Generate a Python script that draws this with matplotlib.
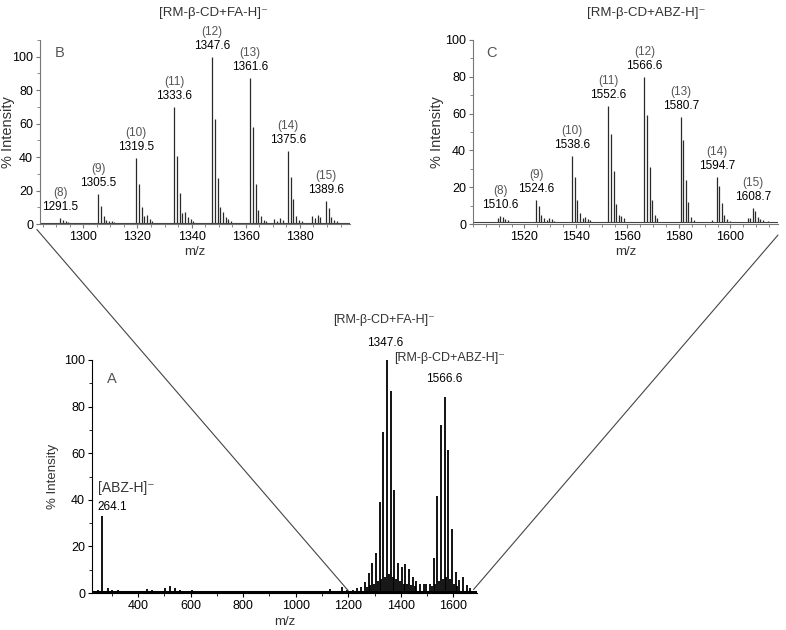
import matplotlib
matplotlib.use('Agg')
import matplotlib.pyplot as plt
from matplotlib.patches import ConnectionPatch
from matplotlib.ticker import MultipleLocator

plt.rcParams['font.family'] = ['Liberation Sans', 'DejaVu Sans']
plt.rcParams['font.size'] = 9

# --- panel A: full spectrum (cluster tops only) ---
a_mz = [247, 264.1, 287, 300, 325, 340, 433, 452, 471, 503, 522, 541, 560, 605,
        650, 700, 1132, 1176, 1195, 1219, 1235, 1249.5,
        1263.5, 1270.5, 1277.5, 1284.5, 1291.5, 1298.5, 1305.5, 1312.5, 1319.5,
        1326.5, 1333.6, 1340.6, 1347.6, 1354.6, 1361.6, 1368.6, 1375.6, 1382.6,
        1389.6, 1396.6, 1403.6, 1410.6, 1417.6, 1424.6, 1431.6, 1438.6, 1445.6,
        1452.6, 1459.6, 1473.6, 1487.6, 1496.6, 1510.6, 1517.6, 1524.6, 1531.6,
        1538.6, 1545.6, 1552.6, 1559.6, 1566.6, 1573.6, 1580.7, 1587.7, 1594.7,
        1601.7, 1608.7, 1615.7, 1622.7, 1636.7, 1650.7, 1664.7]
a_int = [1.2, 33, 2, 1.5, 1.3, 1, 1.6, 1.2, 1, 2, 3, 2.3, 1.2, 1.4,
         1, 1, 1.7, 2.7, 1.5, 1.5, 2, 2.5,
         4.6, 2.5, 8.4, 3.5, 12.7, 4, 17, 5, 39,
         6, 69, 7, 100, 8, 86.5, 7, 44, 6,
         13, 5, 11, 4, 12.5, 4, 10.5, 3.5, 7,
         3, 5, 4, 4, 4, 4, 3, 15, 4,
         41.8, 5, 72, 6, 84, 7, 61.5, 6, 27.5,
         4, 9, 3, 5.5, 7, 3.5, 2]
a_tags = {264.1: '264.1', 1347.6: '1347.6', 1566.6: '1566.6'}

# --- panel B: [RM-b-CD+FA-H]- cluster ---
b_mz = [1291.5, 1292.5, 1293.5, 1294.5,
        1305.5, 1306.5, 1307.5, 1308.5, 1309.5, 1310.5, 1311.5,
        1319.5, 1320.5, 1321.5, 1322.5, 1323.5, 1324.5, 1325.5,
        1333.6, 1334.6, 1335.6, 1336.6, 1337.6, 1338.6, 1339.6, 1340.6,
        1347.6, 1348.6, 1349.6, 1350.6, 1351.6, 1352.6, 1353.6, 1354.6,
        1361.6, 1362.6, 1363.6, 1364.6, 1365.6, 1366.6, 1367.6,
        1370.6, 1371.6, 1372.6, 1373.6,
        1375.6, 1376.6, 1377.6, 1378.6, 1379.6, 1380.6,
        1384.6, 1385.6, 1386.6, 1387.6,
        1389.6, 1390.6, 1391.6, 1392.6, 1393.6]
b_int = [3.5, 2.5, 1.5, 1.2,
         18, 10.5, 5, 2.5, 1.8, 1.5, 1.2,
         39.5, 24, 10, 4.5, 5.5, 3, 2,
         70, 40.5, 18.5, 6.5, 7, 4, 3, 2,
         100, 62.5, 27.5, 10, 7, 4, 3, 2,
         87.5, 58, 24, 8.5, 4.5, 2.5, 2,
         3, 2, 3.5, 2.5,
         43.5, 28, 15, 5, 2.5, 1.5,
         4.5, 3.5, 5.5, 4,
         14, 9.5, 4, 2.5, 1.5]
b_label_mz = [1291.5, 1305.5, 1319.5, 1333.6, 1347.6, 1361.6, 1375.6, 1389.6]
b_label_n = [8, 9, 10, 11, 12, 13, 14, 15]

# --- panel C: [RM-b-CD+ABZ-H]- cluster ---
c_mz = [1509.6, 1510.6, 1511.6, 1512.6, 1513.6,
        1524.6, 1525.6, 1526.6, 1527.6, 1528.6, 1529.6, 1530.6, 1531.6,
        1538.6, 1539.6, 1540.6, 1541.6, 1542.6, 1543.6, 1544.6, 1545.6,
        1552.6, 1553.6, 1554.6, 1555.6, 1556.6, 1557.6, 1558.6,
        1566.6, 1567.6, 1568.6, 1569.6, 1570.6, 1571.6,
        1580.7, 1581.7, 1582.7, 1583.7, 1584.7, 1585.7,
        1592.7,
        1594.7, 1595.7, 1596.7, 1597.7, 1598.7, 1599.7,
        1606.7, 1607.7, 1608.7, 1609.7, 1610.7, 1611.7, 1612.7, 1614.7]
c_int = [3, 4.5, 4, 2.5, 2,
         13, 10, 5, 3, 2, 3.5, 2.5, 1.8,
         37, 25.5, 13, 6, 3.5, 4, 2.5, 2,
         64, 49, 29, 11, 5, 4.5, 3,
         80, 59.5, 31, 13, 5, 3,
         58, 45.5, 24, 12, 4, 2,
         2,
         25.5, 20.5, 11.5, 5, 2.5, 1.8,
         3, 3.5, 8.5, 7, 4, 2.5, 2, 1.8]
c_label_mz = [1510.6, 1524.6, 1538.6, 1552.6, 1566.6, 1580.7, 1594.7, 1608.7]
c_label_n = [8, 9, 10, 11, 12, 13, 14, 15]

GREY = '#555555'
DARK = '#333333'


def style_axes(ax, color, ylab_x, xlab_y, ylab_size):
    ax.spines['top'].set_visible(False)
    ax.spines['right'].set_visible(False)
    for s in ('left', 'bottom'):
        ax.spines[s].set_color(color)
        ax.spines[s].set_linewidth(0.8)
    ax.tick_params(which='major', direction='out', length=3, width=0.8,
                   color=color, labelsize=9, pad=2)
    ax.tick_params(which='minor', direction='out', length=2, width=0.6,
                   color=color)
    ax.set_ylabel('% Intensity', color=DARK, fontsize=ylab_size)
    ax.set_xlabel('m/z', color=DARK, fontsize=9.5)
    ax.yaxis.set_label_coords(ylab_x, 0.5)
    ax.xaxis.set_label_coords(0.5, xlab_y)


def zoom_panel(ax, mz, inten, label_mz, label_n, base):
    ax.vlines(mz, base, inten, color='#2a2a2a', lw=0.9)
    ax.axhline(base, color='#444444', lw=0.8)
    lookup = dict(zip(mz, inten))
    for x, n in zip(label_mz, label_n):
        h = lookup[x]
        ax.annotate('%.1f' % x, (x, h), xytext=(0, 11), textcoords='offset pixels',
                    ha='center', va='center', fontsize=8.5, annotation_clip=False)
        ax.annotate('(%d)' % n, (x, h), xytext=(0, 25), textcoords='offset pixels',
                    ha='center', va='center', fontsize=8.5, color=GREY,
                    annotation_clip=False)


fig = plt.figure(figsize=(7.86, 6.30), dpi=100)
W, H = 786., 630.

# panel B
ax_b = fig.add_axes([40 / W, 1 - 224 / H, 310 / W, 184 / H])
zoom_panel(ax_b, b_mz, b_int, b_label_mz, b_label_n, 0.6)
ax_b.set_xlim(1284, 1398.5)
ax_b.set_ylim(0, 110)
ax_b.set_yticks([0, 20, 40, 60, 80, 100])
ax_b.set_xticks([1300, 1320, 1340, 1360, 1380])
ax_b.yaxis.set_minor_locator(MultipleLocator(10))
ax_b.xaxis.set_minor_locator(MultipleLocator(5))
style_axes(ax_b, '#777777', -0.081, -0.12, 10.5)
ax_b.text(0.048, 0.93, 'B', transform=ax_b.transAxes, color=GREY,
          fontsize=10.5, ha='left', va='center')

# panel C
ax_c = fig.add_axes([473 / W, 1 - 224 / H, 305 / W, 184 / H])
zoom_panel(ax_c, c_mz, c_int, c_label_mz, c_label_n, 1.0)
ax_c.set_xlim(1500, 1618.5)
ax_c.set_ylim(0, 100)
ax_c.set_yticks([0, 20, 40, 60, 80, 100])
ax_c.set_xticks([1520, 1540, 1560, 1580, 1600])
ax_c.yaxis.set_minor_locator(MultipleLocator(10))
ax_c.xaxis.set_minor_locator(MultipleLocator(5))
style_axes(ax_c, '#777777', -0.095, -0.12, 10.5)
ax_c.text(0.045, 0.93, 'C', transform=ax_c.transAxes, color=GREY,
          fontsize=10.5, ha='left', va='center')

# panel A
ax_a = fig.add_axes([92 / W, 1 - 593 / H, 385 / W, 233 / H])
ax_a.vlines(a_mz, 0, a_int, color='black', lw=1.3)
ax_a.axhline(0.6, color='black', lw=2.2)
ax_a.set_xlim(225, 1690)
ax_a.set_ylim(0, 100)
ax_a.set_yticks([0, 20, 40, 60, 80, 100])
ax_a.set_xticks([400, 600, 800, 1000, 1200, 1400, 1600])
ax_a.yaxis.set_minor_locator(MultipleLocator(10))
ax_a.xaxis.set_minor_locator(MultipleLocator(100))
style_axes(ax_a, 'black', -0.086, -0.099, 9.5)
ax_a.text(0.039, 0.92, 'A', transform=ax_a.transAxes, color=GREY,
          fontsize=10.5, ha='left', va='center')

lookup_a = dict(zip(a_mz, a_int))
ax_a.annotate(a_tags[264.1], (264.1, lookup_a[264.1]), xytext=(-5, 9),
              textcoords='offset pixels', ha='left', va='center', fontsize=8.5)
ax_a.annotate('[ABZ-H]\u207b', (264.1, lookup_a[264.1]), xytext=(-4, 28),
              textcoords='offset pixels', ha='left', va='center', color=DARK,
              fontsize=10)
ax_a.annotate(a_tags[1347.6], (1347.6, lookup_a[1347.6]), xytext=(-2, 17),
              textcoords='offset pixels', ha='center', va='center',
              fontsize=8.5, annotation_clip=False)
ax_a.annotate('[RM-\u03b2-CD+FA-H]\u207b', (1347.6, lookup_a[1347.6]),
              xytext=(-3, 40), textcoords='offset pixels', ha='center',
              va='center', color=DARK, fontsize=9, annotation_clip=False)
ax_a.annotate(a_tags[1566.6], (1566.6, lookup_a[1566.6]), xytext=(0, 18),
              textcoords='offset pixels', ha='center', va='center', fontsize=8.5)
ax_a.annotate('[RM-\u03b2-CD+ABZ-H]\u207b', (1566.6, lookup_a[1566.6]),
              xytext=(5, 39), textcoords='offset pixels', ha='center',
              va='center', color=DARK, fontsize=9, annotation_clip=False)

# titles of the zoomed panels
fig.text(214 / W, 1 - 13 / H, '[RM-\u03b2-CD+FA-H]\u207b', ha='center',
         va='center', color=DARK, fontsize=9.5)
fig.text(646 / W, 1 - 13 / H, '[RM-\u03b2-CD+ABZ-H]\u207b', ha='center',
         va='center', color=DARK, fontsize=9.5)

# zoom connector lines
con1 = ConnectionPatch(xyA=(-0.01, -0.03), coordsA=ax_b.transAxes,
                       xyB=(1200, 1), coordsB=ax_a.transData,
                       color='#444444', lw=0.8)
con2 = ConnectionPatch(xyA=(1.0, -0.06), coordsA=ax_c.transAxes,
                       xyB=(1677, 1.5), coordsB=ax_a.transData,
                       color='#444444', lw=0.8)
fig.add_artist(con1)
fig.add_artist(con2)

fig.savefig('out.png', dpi=100)
